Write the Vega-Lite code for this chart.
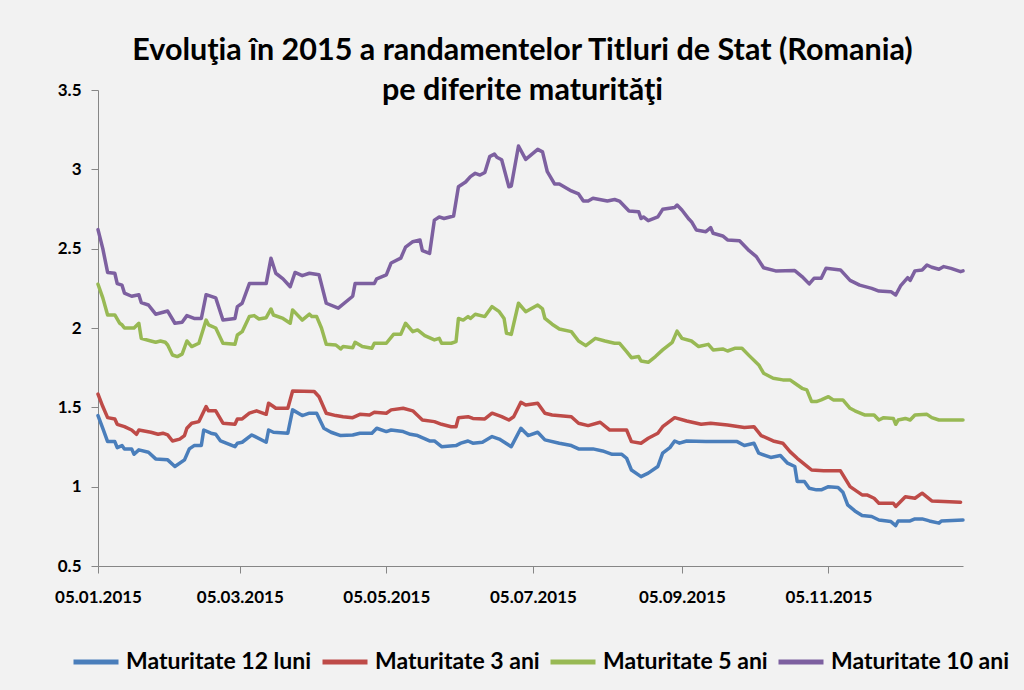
{
  "$schema": "https://vega.github.io/schema/vega-lite/v6.json",
  "width": 865,
  "height": 476,
  "autosize": {"type": "none"},
  "padding": {"left": 98, "top": 90, "right": 61, "bottom": 124},
  "background": "#F2F2F2",
  "title": {
    "text": ["Evoluţia în 2015 a randamentelor Titluri de Stat (Romania)", "pe diferite maturităţi"],
    "font": "Lato", "fontSize": 30.5, "fontWeight": "bold", "color": "#000000",
    "anchor": "middle", "lineHeight": 40, "offset": -25, "dx": -8
  },
  "datasets": {
    "m12": [
      {"date":"2015-01-05","value":1.448},{"date":"2015-01-07","value":1.368},{"date":"2015-01-09","value":1.284},{"date":"2015-01-12","value":1.284},{"date":"2015-01-13","value":1.246},{"date":"2015-01-15","value":1.259},{"date":"2015-01-16","value":1.238},{"date":"2015-01-19","value":1.238},{"date":"2015-01-20","value":1.204},{"date":"2015-01-22","value":1.232},{"date":"2015-01-26","value":1.217},{"date":"2015-01-29","value":1.175},{"date":"2015-02-03","value":1.169},{"date":"2015-02-06","value":1.127},{"date":"2015-02-10","value":1.169},{"date":"2015-02-12","value":1.238},{"date":"2015-02-14","value":1.259},{"date":"2015-02-17","value":1.259},{"date":"2015-02-18","value":1.357},{"date":"2015-02-21","value":1.337},{"date":"2015-02-23","value":1.33},{"date":"2015-02-25","value":1.288},{"date":"2015-03-03","value":1.252},{"date":"2015-03-04","value":1.274},{"date":"2015-03-06","value":1.28},{"date":"2015-03-10","value":1.326},{"date":"2015-03-16","value":1.28},{"date":"2015-03-17","value":1.357},{"date":"2015-03-19","value":1.343},{"date":"2015-03-25","value":1.337},{"date":"2015-03-27","value":1.484},{"date":"2015-03-31","value":1.448},{"date":"2015-04-03","value":1.463},{"date":"2015-04-06","value":1.463},{"date":"2015-04-09","value":1.368},{"date":"2015-04-12","value":1.343},{"date":"2015-04-16","value":1.322},{"date":"2015-04-21","value":1.326},{"date":"2015-04-24","value":1.337},{"date":"2015-04-29","value":1.337},{"date":"2015-05-01","value":1.368},{"date":"2015-05-05","value":1.347},{"date":"2015-05-07","value":1.357},{"date":"2015-05-12","value":1.347},{"date":"2015-05-15","value":1.33},{"date":"2015-05-18","value":1.322},{"date":"2015-05-23","value":1.288},{"date":"2015-05-25","value":1.288},{"date":"2015-05-28","value":1.252},{"date":"2015-06-03","value":1.259},{"date":"2015-06-05","value":1.274},{"date":"2015-06-08","value":1.288},{"date":"2015-06-10","value":1.274},{"date":"2015-06-14","value":1.28},{"date":"2015-06-18","value":1.316},{"date":"2015-06-21","value":1.30},{"date":"2015-06-26","value":1.252},{"date":"2015-06-30","value":1.368},{"date":"2015-07-03","value":1.322},{"date":"2015-07-07","value":1.343},{"date":"2015-07-10","value":1.295},{"date":"2015-07-16","value":1.274},{"date":"2015-07-21","value":1.259},{"date":"2015-07-24","value":1.238},{"date":"2015-07-30","value":1.238},{"date":"2015-08-03","value":1.225},{"date":"2015-08-07","value":1.204},{"date":"2015-08-11","value":1.204},{"date":"2015-08-13","value":1.179},{"date":"2015-08-15","value":1.105},{"date":"2015-08-19","value":1.063},{"date":"2015-08-22","value":1.085},{"date":"2015-08-26","value":1.127},{"date":"2015-08-28","value":1.211},{"date":"2015-08-31","value":1.246},{"date":"2015-09-02","value":1.288},{"date":"2015-09-04","value":1.274},{"date":"2015-09-07","value":1.288},{"date":"2015-09-15","value":1.284},{"date":"2015-09-28","value":1.284},{"date":"2015-10-01","value":1.259},{"date":"2015-10-05","value":1.274},{"date":"2015-10-07","value":1.211},{"date":"2015-10-12","value":1.184},{"date":"2015-10-16","value":1.196},{"date":"2015-10-19","value":1.148},{"date":"2015-10-22","value":1.127},{"date":"2015-10-23","value":1.032},{"date":"2015-10-26","value":1.032},{"date":"2015-10-28","value":0.99},{"date":"2015-10-31","value":0.98},{"date":"2015-11-02","value":0.98},{"date":"2015-11-05","value":1.0},{"date":"2015-11-09","value":0.995},{"date":"2015-11-11","value":0.965},{"date":"2015-11-13","value":0.885},{"date":"2015-11-16","value":0.847},{"date":"2015-11-19","value":0.818},{"date":"2015-11-23","value":0.812},{"date":"2015-11-26","value":0.79},{"date":"2015-12-01","value":0.78},{"date":"2015-12-03","value":0.755},{"date":"2015-12-04","value":0.784},{"date":"2015-12-09","value":0.784},{"date":"2015-12-11","value":0.797},{"date":"2015-12-14","value":0.797},{"date":"2015-12-17","value":0.784},{"date":"2015-12-21","value":0.77},{"date":"2015-12-22","value":0.784},{"date":"2015-12-31","value":0.79}
    ],
    "m3": [
      {"date":"2015-01-05","value":1.583},{"date":"2015-01-07","value":1.505},{"date":"2015-01-09","value":1.435},{"date":"2015-01-12","value":1.427},{"date":"2015-01-13","value":1.393},{"date":"2015-01-16","value":1.378},{"date":"2015-01-19","value":1.357},{"date":"2015-01-21","value":1.33},{"date":"2015-01-22","value":1.357},{"date":"2015-01-27","value":1.343},{"date":"2015-01-30","value":1.33},{"date":"2015-02-01","value":1.337},{"date":"2015-02-03","value":1.326},{"date":"2015-02-05","value":1.288},{"date":"2015-02-08","value":1.30},{"date":"2015-02-10","value":1.322},{"date":"2015-02-11","value":1.368},{"date":"2015-02-13","value":1.40},{"date":"2015-02-16","value":1.41},{"date":"2015-02-19","value":1.505},{"date":"2015-02-20","value":1.478},{"date":"2015-02-23","value":1.478},{"date":"2015-02-26","value":1.40},{"date":"2015-03-03","value":1.393},{"date":"2015-03-04","value":1.427},{"date":"2015-03-06","value":1.427},{"date":"2015-03-09","value":1.463},{"date":"2015-03-12","value":1.478},{"date":"2015-03-16","value":1.456},{"date":"2015-03-17","value":1.526},{"date":"2015-03-19","value":1.505},{"date":"2015-03-20","value":1.494},{"date":"2015-03-25","value":1.494},{"date":"2015-03-27","value":1.603},{"date":"2015-04-05","value":1.60},{"date":"2015-04-07","value":1.567},{"date":"2015-04-10","value":1.463},{"date":"2015-04-14","value":1.448},{"date":"2015-04-17","value":1.441},{"date":"2015-04-21","value":1.435},{"date":"2015-04-24","value":1.456},{"date":"2015-04-28","value":1.452},{"date":"2015-04-30","value":1.469},{"date":"2015-05-05","value":1.463},{"date":"2015-05-07","value":1.484},{"date":"2015-05-12","value":1.494},{"date":"2015-05-16","value":1.478},{"date":"2015-05-20","value":1.42},{"date":"2015-05-25","value":1.41},{"date":"2015-05-28","value":1.393},{"date":"2015-06-01","value":1.378},{"date":"2015-06-03","value":1.378},{"date":"2015-06-04","value":1.435},{"date":"2015-06-08","value":1.441},{"date":"2015-06-10","value":1.43},{"date":"2015-06-15","value":1.427},{"date":"2015-06-18","value":1.463},{"date":"2015-06-22","value":1.441},{"date":"2015-06-25","value":1.42},{"date":"2015-06-27","value":1.441},{"date":"2015-06-30","value":1.532},{"date":"2015-07-02","value":1.515},{"date":"2015-07-07","value":1.526},{"date":"2015-07-10","value":1.463},{"date":"2015-07-13","value":1.452},{"date":"2015-07-21","value":1.441},{"date":"2015-07-24","value":1.40},{"date":"2015-07-28","value":1.385},{"date":"2015-08-02","value":1.406},{"date":"2015-08-06","value":1.357},{"date":"2015-08-13","value":1.357},{"date":"2015-08-15","value":1.284},{"date":"2015-08-19","value":1.274},{"date":"2015-08-22","value":1.305},{"date":"2015-08-26","value":1.337},{"date":"2015-08-28","value":1.378},{"date":"2015-09-02","value":1.435},{"date":"2015-09-07","value":1.414},{"date":"2015-09-13","value":1.393},{"date":"2015-09-17","value":1.40},{"date":"2015-09-24","value":1.389},{"date":"2015-10-01","value":1.373},{"date":"2015-10-05","value":1.378},{"date":"2015-10-08","value":1.322},{"date":"2015-10-13","value":1.288},{"date":"2015-10-17","value":1.274},{"date":"2015-10-20","value":1.221},{"date":"2015-10-23","value":1.179},{"date":"2015-10-27","value":1.13},{"date":"2015-10-29","value":1.105},{"date":"2015-11-03","value":1.10},{"date":"2015-11-10","value":1.10},{"date":"2015-11-14","value":1.0},{"date":"2015-11-19","value":0.948},{"date":"2015-11-21","value":0.948},{"date":"2015-11-24","value":0.927},{"date":"2015-11-26","value":0.896},{"date":"2015-12-02","value":0.896},{"date":"2015-12-03","value":0.875},{"date":"2015-12-07","value":0.937},{"date":"2015-12-11","value":0.927},{"date":"2015-12-14","value":0.959},{"date":"2015-12-18","value":0.91},{"date":"2015-12-23","value":0.906},{"date":"2015-12-30","value":0.902}
    ],
    "m5": [
      {"date":"2015-01-05","value":2.276},{"date":"2015-01-07","value":2.19},{"date":"2015-01-09","value":2.082},{"date":"2015-01-12","value":2.082},{"date":"2015-01-14","value":2.03},{"date":"2015-01-15","value":2.02},{"date":"2015-01-16","value":2.0},{"date":"2015-01-20","value":2.0},{"date":"2015-01-22","value":2.03},{"date":"2015-01-23","value":1.935},{"date":"2015-01-27","value":1.918},{"date":"2015-01-29","value":1.91},{"date":"2015-01-31","value":1.918},{"date":"2015-02-02","value":1.91},{"date":"2015-02-03","value":1.893},{"date":"2015-02-05","value":1.83},{"date":"2015-02-07","value":1.82},{"date":"2015-02-09","value":1.835},{"date":"2015-02-11","value":1.918},{"date":"2015-02-13","value":1.883},{"date":"2015-02-16","value":1.904},{"date":"2015-02-19","value":2.05},{"date":"2015-02-20","value":2.02},{"date":"2015-02-23","value":2.0},{"date":"2015-02-26","value":1.904},{"date":"2015-03-03","value":1.897},{"date":"2015-03-04","value":1.956},{"date":"2015-03-06","value":1.977},{"date":"2015-03-09","value":2.072},{"date":"2015-03-11","value":2.078},{"date":"2015-03-13","value":2.057},{"date":"2015-03-16","value":2.065},{"date":"2015-03-18","value":2.12},{"date":"2015-03-19","value":2.082},{"date":"2015-03-23","value":2.06},{"date":"2015-03-26","value":2.03},{"date":"2015-03-27","value":2.114},{"date":"2015-03-31","value":2.05},{"date":"2015-04-03","value":2.087},{"date":"2015-04-04","value":2.072},{"date":"2015-04-06","value":2.072},{"date":"2015-04-08","value":2.0},{"date":"2015-04-10","value":1.897},{"date":"2015-04-14","value":1.893},{"date":"2015-04-16","value":1.868},{"date":"2015-04-17","value":1.883},{"date":"2015-04-21","value":1.876},{"date":"2015-04-22","value":1.91},{"date":"2015-04-25","value":1.883},{"date":"2015-04-29","value":1.872},{"date":"2015-04-30","value":1.904},{"date":"2015-05-05","value":1.904},{"date":"2015-05-08","value":1.96},{"date":"2015-05-11","value":1.96},{"date":"2015-05-13","value":2.03},{"date":"2015-05-16","value":1.977},{"date":"2015-05-18","value":1.988},{"date":"2015-05-21","value":1.952},{"date":"2015-05-25","value":1.925},{"date":"2015-05-27","value":1.935},{"date":"2015-05-28","value":1.904},{"date":"2015-06-01","value":1.904},{"date":"2015-06-03","value":1.914},{"date":"2015-06-04","value":2.06},{"date":"2015-06-06","value":2.05},{"date":"2015-06-08","value":2.072},{"date":"2015-06-09","value":2.06},{"date":"2015-06-11","value":2.087},{"date":"2015-06-15","value":2.072},{"date":"2015-06-18","value":2.135},{"date":"2015-06-21","value":2.103},{"date":"2015-06-23","value":2.06},{"date":"2015-06-24","value":1.967},{"date":"2015-06-26","value":1.96},{"date":"2015-06-29","value":2.156},{"date":"2015-07-02","value":2.103},{"date":"2015-07-07","value":2.145},{"date":"2015-07-09","value":2.12},{"date":"2015-07-10","value":2.06},{"date":"2015-07-13","value":2.024},{"date":"2015-07-16","value":1.994},{"date":"2015-07-21","value":1.977},{"date":"2015-07-24","value":1.918},{"date":"2015-07-27","value":1.889},{"date":"2015-07-31","value":1.935},{"date":"2015-08-04","value":1.918},{"date":"2015-08-08","value":1.904},{"date":"2015-08-10","value":1.904},{"date":"2015-08-13","value":1.851},{"date":"2015-08-15","value":1.813},{"date":"2015-08-18","value":1.82},{"date":"2015-08-19","value":1.792},{"date":"2015-08-22","value":1.784},{"date":"2015-08-25","value":1.82},{"date":"2015-08-28","value":1.862},{"date":"2015-09-01","value":1.91},{"date":"2015-09-03","value":1.98},{"date":"2015-09-05","value":1.935},{"date":"2015-09-09","value":1.918},{"date":"2015-09-12","value":1.883},{"date":"2015-09-16","value":1.897},{"date":"2015-09-18","value":1.862},{"date":"2015-09-22","value":1.868},{"date":"2015-09-24","value":1.855},{"date":"2015-09-27","value":1.872},{"date":"2015-09-30","value":1.872},{"date":"2015-10-03","value":1.826},{"date":"2015-10-07","value":1.767},{"date":"2015-10-09","value":1.715},{"date":"2015-10-13","value":1.683},{"date":"2015-10-17","value":1.673},{"date":"2015-10-20","value":1.673},{"date":"2015-10-22","value":1.652},{"date":"2015-10-25","value":1.62},{"date":"2015-10-27","value":1.61},{"date":"2015-10-29","value":1.536},{"date":"2015-10-31","value":1.536},{"date":"2015-11-02","value":1.547},{"date":"2015-11-05","value":1.567},{"date":"2015-11-07","value":1.547},{"date":"2015-11-11","value":1.547},{"date":"2015-11-14","value":1.494},{"date":"2015-11-16","value":1.478},{"date":"2015-11-20","value":1.452},{"date":"2015-11-24","value":1.452},{"date":"2015-11-26","value":1.42},{"date":"2015-11-28","value":1.435},{"date":"2015-12-02","value":1.43},{"date":"2015-12-03","value":1.393},{"date":"2015-12-04","value":1.42},{"date":"2015-12-07","value":1.43},{"date":"2015-12-09","value":1.42},{"date":"2015-12-11","value":1.452},{"date":"2015-12-16","value":1.456},{"date":"2015-12-18","value":1.435},{"date":"2015-12-21","value":1.42},{"date":"2015-12-31","value":1.42}
    ],
    "m10": [
      {"date":"2015-01-05","value":2.62},{"date":"2015-01-07","value":2.50},{"date":"2015-01-09","value":2.35},{"date":"2015-01-12","value":2.345},{"date":"2015-01-13","value":2.28},{"date":"2015-01-15","value":2.27},{"date":"2015-01-16","value":2.22},{"date":"2015-01-19","value":2.20},{"date":"2015-01-22","value":2.21},{"date":"2015-01-23","value":2.16},{"date":"2015-01-26","value":2.145},{"date":"2015-01-29","value":2.087},{"date":"2015-02-03","value":2.107},{"date":"2015-02-06","value":2.03},{"date":"2015-02-09","value":2.036},{"date":"2015-02-11","value":2.078},{"date":"2015-02-14","value":2.06},{"date":"2015-02-17","value":2.06},{"date":"2015-02-19","value":2.21},{"date":"2015-02-23","value":2.19},{"date":"2015-02-26","value":2.05},{"date":"2015-03-03","value":2.06},{"date":"2015-03-04","value":2.135},{"date":"2015-03-06","value":2.156},{"date":"2015-03-09","value":2.28},{"date":"2015-03-16","value":2.28},{"date":"2015-03-18","value":2.44},{"date":"2015-03-20","value":2.345},{"date":"2015-03-23","value":2.31},{"date":"2015-03-26","value":2.26},{"date":"2015-03-28","value":2.35},{"date":"2015-03-31","value":2.33},{"date":"2015-04-03","value":2.345},{"date":"2015-04-07","value":2.335},{"date":"2015-04-10","value":2.156},{"date":"2015-04-15","value":2.125},{"date":"2015-04-21","value":2.20},{"date":"2015-04-22","value":2.28},{"date":"2015-04-30","value":2.28},{"date":"2015-05-01","value":2.31},{"date":"2015-05-05","value":2.335},{"date":"2015-05-07","value":2.41},{"date":"2015-05-11","value":2.44},{"date":"2015-05-13","value":2.51},{"date":"2015-05-16","value":2.544},{"date":"2015-05-19","value":2.555},{"date":"2015-05-20","value":2.487},{"date":"2015-05-23","value":2.47},{"date":"2015-05-25","value":2.68},{"date":"2015-05-27","value":2.70},{"date":"2015-05-29","value":2.69},{"date":"2015-06-02","value":2.706},{"date":"2015-06-04","value":2.89},{"date":"2015-06-07","value":2.92},{"date":"2015-06-09","value":2.954},{"date":"2015-06-11","value":2.975},{"date":"2015-06-13","value":2.964},{"date":"2015-06-15","value":2.98},{"date":"2015-06-17","value":3.08},{"date":"2015-06-19","value":3.097},{"date":"2015-06-20","value":3.076},{"date":"2015-06-22","value":3.06},{"date":"2015-06-25","value":2.89},{"date":"2015-06-26","value":2.895},{"date":"2015-06-29","value":3.147},{"date":"2015-07-02","value":3.063},{"date":"2015-07-07","value":3.126},{"date":"2015-07-09","value":3.11},{"date":"2015-07-11","value":2.985},{"date":"2015-07-14","value":2.908},{"date":"2015-07-16","value":2.908},{"date":"2015-07-21","value":2.864},{"date":"2015-07-24","value":2.845},{"date":"2015-07-26","value":2.80},{"date":"2015-07-28","value":2.80},{"date":"2015-07-30","value":2.818},{"date":"2015-08-05","value":2.80},{"date":"2015-08-08","value":2.81},{"date":"2015-08-10","value":2.80},{"date":"2015-08-14","value":2.738},{"date":"2015-08-18","value":2.733},{"date":"2015-08-19","value":2.69},{"date":"2015-08-20","value":2.70},{"date":"2015-08-22","value":2.676},{"date":"2015-08-26","value":2.70},{"date":"2015-08-28","value":2.748},{"date":"2015-09-02","value":2.76},{"date":"2015-09-03","value":2.775},{"date":"2015-09-05","value":2.744},{"date":"2015-09-08","value":2.685},{"date":"2015-09-09","value":2.67},{"date":"2015-09-11","value":2.618},{"date":"2015-09-15","value":2.607},{"date":"2015-09-17","value":2.632},{"date":"2015-09-18","value":2.597},{"date":"2015-09-22","value":2.58},{"date":"2015-09-24","value":2.555},{"date":"2015-09-29","value":2.55},{"date":"2015-10-03","value":2.487},{"date":"2015-10-06","value":2.45},{"date":"2015-10-09","value":2.38},{"date":"2015-10-14","value":2.36},{"date":"2015-10-22","value":2.362},{"date":"2015-10-25","value":2.324},{"date":"2015-10-28","value":2.278},{"date":"2015-10-30","value":2.313},{"date":"2015-11-02","value":2.313},{"date":"2015-11-04","value":2.376},{"date":"2015-11-10","value":2.366},{"date":"2015-11-14","value":2.30},{"date":"2015-11-18","value":2.27},{"date":"2015-11-23","value":2.25},{"date":"2015-11-26","value":2.233},{"date":"2015-12-01","value":2.229},{"date":"2015-12-03","value":2.208},{"date":"2015-12-05","value":2.265},{"date":"2015-12-08","value":2.317},{"date":"2015-12-09","value":2.30},{"date":"2015-12-11","value":2.36},{"date":"2015-12-14","value":2.366},{"date":"2015-12-16","value":2.397},{"date":"2015-12-18","value":2.383},{"date":"2015-12-21","value":2.37},{"date":"2015-12-23","value":2.387},{"date":"2015-12-26","value":2.376},{"date":"2015-12-30","value":2.355},{"date":"2015-12-31","value":2.36}
    ]
  },
  "encoding": {
    "x": {
      "field": "date", "type": "temporal",
      "scale": {"type": "utc", "domain": [{"year": 2015, "month": 1, "date": 5, "utc": true}, {"year": 2015, "month": 12, "date": 31, "utc": true}]},
      "axis": {
        "title": null, "grid": false, "format": "%d.%m.%Y",
        "values": [
          {"year": 2015, "month": 1, "date": 5, "utc": true},
          {"year": 2015, "month": 3, "date": 5, "utc": true},
          {"year": 2015, "month": 5, "date": 5, "utc": true},
          {"year": 2015, "month": 7, "date": 5, "utc": true},
          {"year": 2015, "month": 9, "date": 5, "utc": true},
          {"year": 2015, "month": 11, "date": 5, "utc": true}
        ],
        "labelFont": "Lato", "labelFontSize": 17, "labelFontWeight": "bold", "labelColor": "#000000",
        "domainColor": "#868686", "tickColor": "#868686", "tickSize": 7, "labelPadding": 16,
        "labelFlush": false, "labelOverlap": false
      }
    },
    "y": {
      "field": "value", "type": "quantitative",
      "scale": {"domain": [0.5, 3.5], "nice": false, "zero": false},
      "axis": {
        "title": null, "grid": false, "format": "~g",
        "values": [0.5, 1, 1.5, 2, 2.5, 3, 3.5],
        "labelFont": "Lato", "labelFontSize": 17, "labelFontWeight": "bold", "labelColor": "#000000",
        "domainColor": "#868686", "tickColor": "#868686", "tickSize": 7, "labelPadding": 10
      }
    }
  },
  "layer": [
    {
      "data": {"name": "m12"},
      "mark": {"type": "line", "strokeWidth": 3.5, "strokeJoin": "round", "strokeCap": "round"},
      "encoding": {
        "color": {
          "datum": "Maturitate 12 luni", "type": "nominal",
          "scale": {
            "domain": ["Maturitate 12 luni", "Maturitate 3 ani", "Maturitate 5 ani", "Maturitate 10 ani"],
            "range": ["#4A7EBB", "#BE4B48", "#98B954", "#7D60A0"]
          },
          "legend": {
            "title": null, "orient": "none", "legendX": -27, "legendY": 547,
            "direction": "horizontal", "columns": 4,
            "symbolType": "stroke", "symbolSize": 2025, "symbolStrokeWidth": 5,
            "labelFont": "Lato", "labelFontSize": 23, "labelFontWeight": "bold", "labelColor": "#000000",
            "labelLimit": 400, "labelOffset": 5, "columnPadding": 0
          }
        }
      }
    },
    {
      "data": {"name": "m3"},
      "mark": {"type": "line", "strokeWidth": 3.5, "strokeJoin": "round", "strokeCap": "round"},
      "encoding": {"color": {"datum": "Maturitate 3 ani", "type": "nominal"}}
    },
    {
      "data": {"name": "m5"},
      "mark": {"type": "line", "strokeWidth": 3.5, "strokeJoin": "round", "strokeCap": "round"},
      "encoding": {"color": {"datum": "Maturitate 5 ani", "type": "nominal"}}
    },
    {
      "data": {"name": "m10"},
      "mark": {"type": "line", "strokeWidth": 3.5, "strokeJoin": "round", "strokeCap": "round"},
      "encoding": {"color": {"datum": "Maturitate 10 ani", "type": "nominal"}}
    }
  ],
  "config": {"view": {"stroke": null}}
}
